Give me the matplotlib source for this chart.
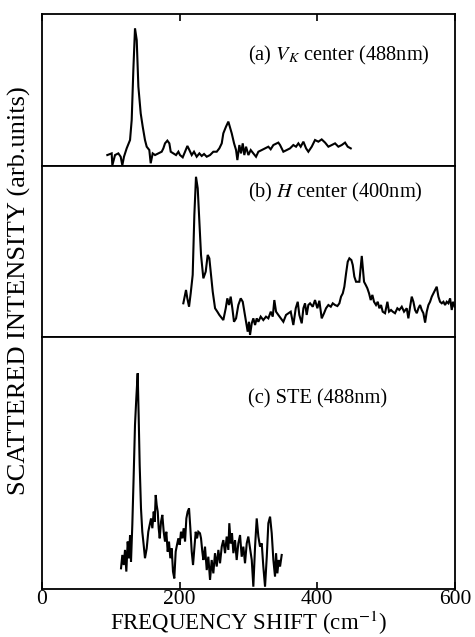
import matplotlib
matplotlib.use("Agg")
import matplotlib.pyplot as plt

plt.rcParams['font.family'] = ['Liberation Serif', 'DejaVu Serif']
plt.rcParams['mathtext.fontset'] = 'stix'

# ---- data ----
shift_a = [94.9, 101.2, 102.2, 106.1, 110.9, 114.3, 116.7, 119.1, 123.0, 127.9, 130.3, 132.7, 135.1,
           137.6, 140.0, 143.4, 146.3, 149.6, 152.1, 155.9, 157.9, 160.8, 164.2, 169.0, 173.9, 176.3,
           178.7, 182.1, 185.0, 187.0, 190.8, 194.7, 198.1, 200.5, 204.4, 207.8, 211.2, 214.1, 217.5,
           220.8, 224.7, 228.6, 232.0, 235.4, 239.3, 244.1, 248.9, 253.8, 257.6, 261.1, 263.4, 267.3,
           270.7, 275.6, 279.0, 281.9, 283.8, 286.7, 289.1, 291.6, 293.9, 296.4, 299.8, 303.2, 307.0,
           310.9, 314.3, 319.2, 324.0, 328.8, 332.2, 336.1, 343.3, 345.8, 348.2, 350.6, 355.5, 360.3,
           365.1, 369.0, 372.4, 375.8, 379.7, 383.6, 386.9, 391.8, 396.6, 401.4, 406.3, 411.2, 416.0,
           420.9, 425.7, 430.5, 435.4, 440.2, 444.1, 448.5]
int_a = [7.2, 8.3, 0.5, 7.2, 8.3, 6.1, 0.5, 6.1, 11.6, 17.1, 30.3, 63.2, 90.6,
         82.9, 52.2, 34.6, 25.9, 17.1, 12.7, 10.5, 1.8, 8.3, 7.2, 8.3, 9.4, 11.6,
         14.9, 16.7, 14.9, 9.4, 8.3, 7.2, 9.4, 7.2, 5.7, 9.4, 13.2, 10.5, 7.2,
         9.4, 6.1, 8.3, 6.6, 7.9, 6.1, 7.2, 9.4, 9.4, 11.6, 14.9, 21.5, 25.9,
         29.2, 21.5, 14.9, 10.5, 3.9, 13.8, 8.3, 14.9, 7.2, 12.7, 7.2, 10.5, 8.3,
         6.1, 9.4, 10.5, 11.6, 12.7, 11.0, 13.8, 15.4, 13.8, 11.6, 9.4, 10.5, 11.6,
         13.8, 12.7, 14.9, 12.7, 16.0, 11.6, 9.4, 12.7, 17.1, 16.0, 17.5, 15.4, 12.7,
         13.8, 14.9, 12.7, 13.8, 15.4, 12.7, 11.6]

shift_b = [205.3, 209.2, 211.1, 213.6, 216.0, 218.9, 221.3, 223.7, 226.2, 228.6, 231.0, 234.4, 237.8,
           240.7, 243.1, 245.6, 248.0, 251.4, 254.7, 257.6, 263.4, 266.9, 269.2, 271.7, 274.1, 276.5,
           278.9, 281.9, 285.2, 288.7, 291.6, 293.9, 296.4, 298.8, 300.7, 302.2, 304.7, 307.0, 309.5,
           311.9, 314.3, 317.7, 321.5, 325.4, 328.8, 332.3, 335.2, 337.5, 340.0, 343.3, 350.6, 354.5,
           361.3, 365.1, 368.6, 371.5, 373.8, 377.3, 379.7, 382.1, 384.5, 386.9, 389.4, 393.3, 396.6,
           400.0, 402.9, 406.3, 409.7, 412.6, 416.0, 419.5, 422.4, 425.7, 429.1, 432.0, 434.4, 436.9,
           439.2, 441.7, 444.1, 446.5, 449.4, 451.4, 453.7, 456.2, 458.6, 461.0, 463.0, 464.5, 465.9,
           467.8, 470.3, 472.6, 475.1, 477.5, 479.9, 482.3, 485.2, 487.7, 490.0, 492.5, 494.9, 498.3,
           501.7, 504.1, 507.0, 509.5, 512.8, 516.2, 519.1, 522.6, 525.9, 529.8, 532.2, 534.7, 537.1,
           539.5, 541.9, 544.4, 546.8, 549.2, 551.6, 554.0, 556.5, 558.9, 561.3, 563.7, 566.2, 568.6,
           573.4, 575.8, 578.2, 580.7, 583.1, 585.5, 587.9, 590.3, 592.8, 595.2, 597.0, 599.4]
int_b = [19.7, 27.5, 22.6, 17.7, 25.5, 36.3, 71.3, 93.7, 87.0, 67.4, 48.0, 34.3, 38.2,
         48.0, 46.0, 36.3, 26.5, 16.8, 14.8, 12.9, 9.9, 16.8, 22.6, 18.7, 23.6, 16.8,
         8.9, 10.9, 18.7, 22.6, 20.6, 14.8, 8.9, 3.1, 8.9, 1.2, 8.0, 10.9, 7.0,
         10.9, 8.9, 11.9, 9.9, 11.9, 10.9, 14.8, 11.9, 21.6, 14.8, 12.9, 8.9, 12.9,
         14.8, 7.0, 16.8, 20.6, 12.9, 8.0, 16.8, 19.7, 12.9, 18.7, 19.7, 17.7, 21.6,
         16.8, 21.2, 10.9, 13.9, 16.8, 18.7, 17.7, 19.7, 18.7, 18.1, 19.7, 23.6, 25.5,
         29.4, 37.2, 44.0, 46.0, 45.0, 42.1, 35.3, 32.3, 32.3, 32.3, 41.1, 47.4, 41.1,
         32.3, 30.4, 28.5, 25.5, 21.6, 24.6, 20.6, 18.7, 20.6, 16.8, 18.7, 14.8, 13.9,
         20.6, 14.8, 15.8, 14.8, 13.9, 16.8, 15.8, 17.7, 14.8, 16.8, 10.9, 17.7, 23.6,
         20.6, 15.8, 13.9, 16.8, 18.7, 15.8, 13.9, 8.4, 14.8, 18.7, 20.6, 23.6, 25.5,
         29.4, 23.6, 20.6, 19.7, 20.6, 18.7, 20.6, 19.7, 22.6, 15.8, 20.6, 17.7]

shift_c = [114.8, 116.7, 118.7, 120.6, 122.5, 124.5, 126.4, 127.9, 129.3, 131.2, 133.2, 135.1, 137.0,
           139.0, 140.4, 141.9, 143.8, 145.7, 147.7, 149.6, 152.1, 154.4, 156.4, 158.4, 160.3, 162.3,
           163.7, 165.2, 166.6, 168.1, 169.5, 171.0, 172.9, 174.8, 176.8, 178.7, 180.6, 182.6, 184.5,
           186.4, 188.4, 190.3, 192.2, 194.2, 196.1, 198.1, 200.0, 201.9, 203.9, 205.8, 207.8, 209.7,
           211.6, 213.6, 215.5, 217.5, 219.4, 221.3, 223.3, 225.2, 227.1, 229.5, 231.0, 232.9, 234.4,
           236.8, 239.3, 241.6, 244.1, 246.5, 248.9, 251.3, 253.8, 256.2, 258.6, 261.1, 263.4, 265.9,
           268.3, 270.7, 272.1, 274.1, 276.0, 278.0, 280.4, 282.8, 285.2, 287.7, 290.1, 292.5, 294.9,
           297.4, 299.7, 304.7, 307.0, 309.5, 311.9, 314.3, 316.7, 319.2, 321.5, 324.0, 326.5, 328.8,
           331.3, 333.7, 336.1, 338.5, 340.0, 341.9, 343.8, 345.8, 348.2]
int_c = [8.2, 13.5, 9.5, 15.5, 6.9, 18.8, 12.2, 21.4, 10.8, 25.4, 45.2, 65.1, 75.7,
         85.6, 69.0, 49.2, 32.0, 22.7, 17.5, 12.2, 16.1, 22.7, 25.4, 28.0, 24.1, 30.7,
         26.7, 37.3, 33.3, 30.7, 24.1, 20.1, 26.7, 29.4, 22.7, 18.8, 22.7, 14.8, 18.8,
         12.2, 16.1, 6.9, 4.2, 14.8, 17.5, 20.1, 17.5, 22.7, 20.1, 24.1, 18.8, 28.0,
         30.7, 32.0, 24.1, 14.8, 9.5, 16.1, 22.7, 20.1, 22.7, 22.1, 20.1, 14.8, 11.5,
         16.8, 7.5, 12.8, 3.6, 11.5, 6.2, 14.2, 8.9, 15.5, 10.2, 16.8, 19.4, 14.2,
         20.8, 15.5, 26.1, 18.1, 22.1, 14.2, 19.4, 11.5, 18.1, 21.4, 12.8, 16.8, 10.2,
         18.1, 20.8, 11.5, 0.9, 16.8, 28.0, 20.8, 16.8, 18.1, 8.9, 0.9, 12.8, 26.1,
         28.7, 22.1, 11.5, 4.9, 14.2, 6.2, 11.5, 8.9, 13.5]

labels = [r'(a) $V_K$ center (488nm)', r'(b) $H$ center (400nm)', '(c) STE (488nm)']
label_y = [0.73, 0.848, 0.754]
xticks = [0, 200, 400, 600]

fig = plt.figure(figsize=(4.75, 6.37), dpi=100)
gs = fig.add_gridspec(3, 1, height_ratios=[152, 171, 252], hspace=0,
                      left=0.0884, right=0.958, top=0.978, bottom=0.0754)
axes = [fig.add_subplot(gs[i]) for i in range(3)]
data = [(shift_a, int_a), (shift_b, int_b), (shift_c, int_c)]

for i, ax in enumerate(axes):
    x, y = data[i]
    ax.plot(x, y, color='black', lw=1.5, solid_joinstyle='miter')
    ax.set_xlim(0, 600)
    ax.set_ylim(0, 100)
    ax.set_yticks([])
    for s in ax.spines.values():
        s.set_linewidth(1.3)
    ax.text(0.499, label_y[i], labels[i], transform=ax.transAxes, ha='left', va='center',
            fontsize=14.7)
    ax.set_xticks(xticks)
    ax.tick_params(axis='x', direction='in', length=5, width=1.2,
                   top=(i == 0), bottom=(i == 2), labelbottom=(i == 2), labeltop=False,
                   labelsize=15.5, pad=1)

fig.text(0.523, 0.0, r'FREQUENCY SHIFT (cm$^{-1}$)', ha='center', va='bottom', fontsize=16.5)
fig.text(0.040, 0.543, 'SCATTERED INTENSITY (arb.units)', rotation=90, ha='center', va='center',
         fontsize=19)

fig.savefig('out.png', dpi=100)
